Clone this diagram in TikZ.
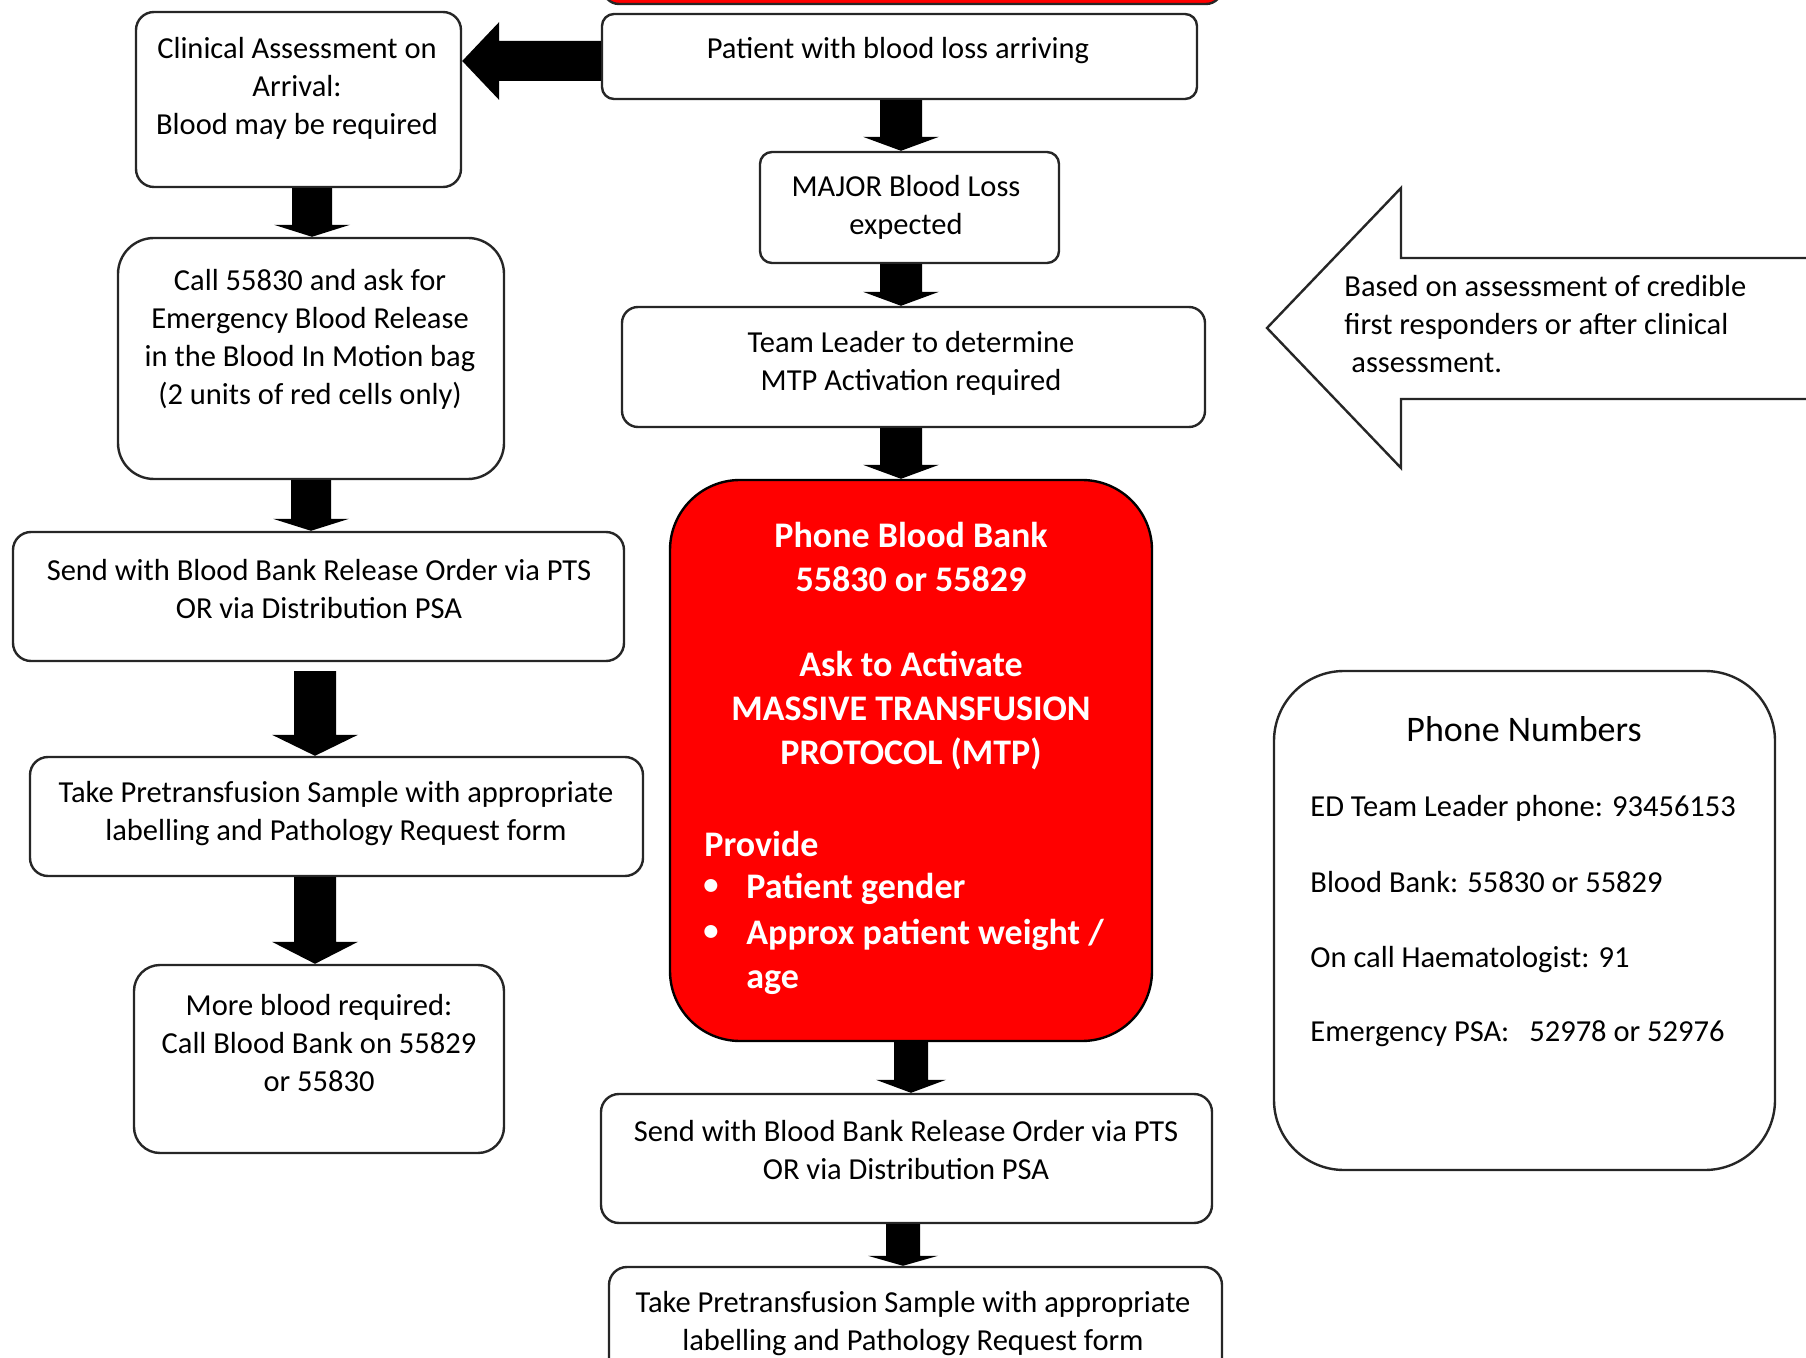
\documentclass[tikz,border=0pt]{standalone}
\usepackage{fontspec}
\setmainfont{Carlito}
\usetikzlibrary{calc,fit}
\newcommand\fsnorm{\fontsize{15.25pt}{19pt}\selectfont}
\newcommand\fsbig{\fontsize{18pt}{22pt}\selectfont}
% #1 source node, #2 target node, #3 x coordinate, #4 shaft half width, #5 head half width, #6 head length, #7 start gap
\newcommand\dnarrow[7]{%
  \fill[black] ($(#1.south -| #3)+(-#4,#7)$) -- ($(#1.south -| #3)+(#4,#7)$)
    -- ($(#2.north -| #3)+(#4,-#6)$) -- ($(#2.north -| #3)+(#5,-#6)$)
    -- (#2.north -| #3) -- ($(#2.north -| #3)+(-#5,-#6)$)
    -- ($(#2.north -| #3)+(-#4,-#6)$) -- cycle;}
\begin{document}
\begin{tikzpicture}[x=0.5pt,y=-0.5pt,
  box/.style={draw=black!85, line width=1.2pt, fill=white, inner sep=0pt},
  txt/.style={font=\fsnorm, align=center, inner sep=0pt, text=black},
  rtxt/.style={font=\fsbig\bfseries, align=center, inner sep=0pt, text=white}]
\useasboundingbox (0,0) rectangle (1806,1358);
\begin{scope}
\clip (0,0) rectangle (1806,1358);
% boxes
\node[box, fill=red, rounded corners=8pt, fit={(603,-60) (1222,4)}] (topbar) {};
\node[box, rounded corners=6pt, fit={(602,14) (1197,99)}] (patient) {};
\node[box, rounded corners=9pt, fit={(136,12) (461,187)}] (clin) {};
\node[box, rounded corners=6pt, fit={(760,152) (1059,263)}] (major) {};
\node[box, rounded corners=8pt, fit={(622,307) (1205,427)}] (team) {};
\node[box, fill=red, draw=black, rounded corners=35pt, fit={(670,480) (1152,1041)}] (red) {};
\node[box, rounded corners=18pt, fit={(118,238) (504,479)}] (call) {};
\node[box, rounded corners=9pt, fit={(13,532) (624,661)}] (sendL) {};
\node[box, rounded corners=9pt, fit={(30,757) (643,876)}] (takeL) {};
\node[box, rounded corners=13pt, fit={(134,965) (504,1153)}] (more) {};
\node[box, rounded corners=9pt, fit={(601,1094) (1212,1223)}] (sendR) {};
\node[box, rounded corners=9pt, fit={(609,1267) (1222,1450)}] (takeR) {};
\node[box, rounded corners=35pt, fit={(1274,671) (1775,1170)}] (phone) {};
% big outline arrow on the right
\draw[line width=1.2pt, draw=black!85, fill=white] (1830,258) -- (1401,258) -- (1401,188) -- (1267,328) -- (1401,468) -- (1401,399) -- (1830,399);
% arrow x positions
\coordinate (xa) at (901,0);
\coordinate (xb) at (312,0);
\coordinate (xf) at (311,0);
\coordinate (xc) at (315,0);
\coordinate (xd) at (911,0);
\coordinate (xe) at (903,0);
\coordinate (ya) at (0,61);
% block arrows
\fill[black] ($(patient.west |- ya)+(0,-20)$) -- ($(clin.east |- ya)+(37,-20)$)
  -- ($(clin.east |- ya)+(37,-39)$) -- (clin.east |- ya) -- ($(clin.east |- ya)+(37,39)$)
  -- ($(clin.east |- ya)+(37,20)$) -- ($(patient.west |- ya)+(0,20)$) -- cycle;
\dnarrow{patient}{major}{xa}{21}{38}{14}{0}
\dnarrow{major}{team}{xa}{21}{38}{14}{0}
\dnarrow{team}{red}{xa}{21}{38}{14}{0}
\dnarrow{clin}{call}{xb}{20}{38}{12}{0}
\dnarrow{call}{sendL}{xf}{20}{38}{12}{0}
\dnarrow{sendL}{takeL}{xc}{21}{43}{21}{9}
\dnarrow{takeL}{more}{xc}{21}{43}{22}{0}
\dnarrow{red}{sendR}{xd}{17}{35}{13}{0}
\dnarrow{sendR}{takeR}{xe}{17}{35}{10}{0}
% texts
\node[txt] (tpatient) at (898,51) {Patient with blood loss arriving};
\node[txt] (tclin) at (297,88) {Clinical Assessment on\\Arrival:\\Blood may be required};
\node[txt] (tmajor) at (906,207) {MAJOR Blood Loss\\expected};
\node[txt] (tteam) at (911,363) {Team Leader to determine\\MTP Activation required};
\node[txt] (tcall) at (310,339) {Call 55830 and ask for\\Emergency Blood Release\\in the Blood In Motion bag\\(2 units of red cells only)};
\node[txt] (tsendL) at (319,589) {Send with Blood Bank Release Order via PTS\\OR via Distribution PSA};
\node[txt] (ttakeL) at (336,814) {Take Pretransfusion Sample with appropriate\\labelling and Pathology Request form};
\node[txt] (tmore) at (319,1043) {More blood required:\\Call Blood Bank on 55829\\or 55830};
\node[txt] (tsendR) at (906,1150) {Send with Blood Bank Release Order via PTS\\OR via Distribution PSA};
\node[txt] (ttakeR) at (913,1324) {Take Pretransfusion Sample with appropriate\\labelling and Pathology Request form};
\node[txt, align=left, anchor=west] (tnote) at (1344,324) {Based on assessment of credible\\first responders or after clinical\\\hspace{3.5pt}assessment.};
% red box
\node[rtxt] (r1) at (911,557) {Phone Blood Bank\\55830 or 55829};
\node[rtxt] (r2) at (911,711) {Ask to Activate\\MASSIVE TRANSFUSION\\PROTOCOL (MTP)};
\node[rtxt, anchor=west] (r3) at (704,844) {Provide};
\node[rtxt, font=\fsnorm\bfseries] (b1) at (711,887) {•};
\node[rtxt, anchor=west] (r4) at (746,889) {Patient gender};
\node[rtxt, font=\fsnorm\bfseries] (b2) at (711,933) {•};
\node[rtxt, anchor=west, align=left] (r5) at (746,957) {Approx patient weight /\\age};
% phone numbers
\node[txt, font=\fsbig] (ptitle) at (1524,729) {Phone Numbers};
\node[txt, anchor=west] (p1) at (1310,808) {ED Team Leader phone: 93456153};
\node[txt, anchor=west] (p2) at (1310,882) {Blood Bank: 55830 or 55829};
\node[txt, anchor=west] (p3) at (1310,960) {On call Haematologist: 91};
\node[txt, anchor=west] (p4) at (1310,1034) {Emergency PSA:\hspace{10pt}52978 or 52976};
\end{scope}
\end{tikzpicture}
\end{document}
